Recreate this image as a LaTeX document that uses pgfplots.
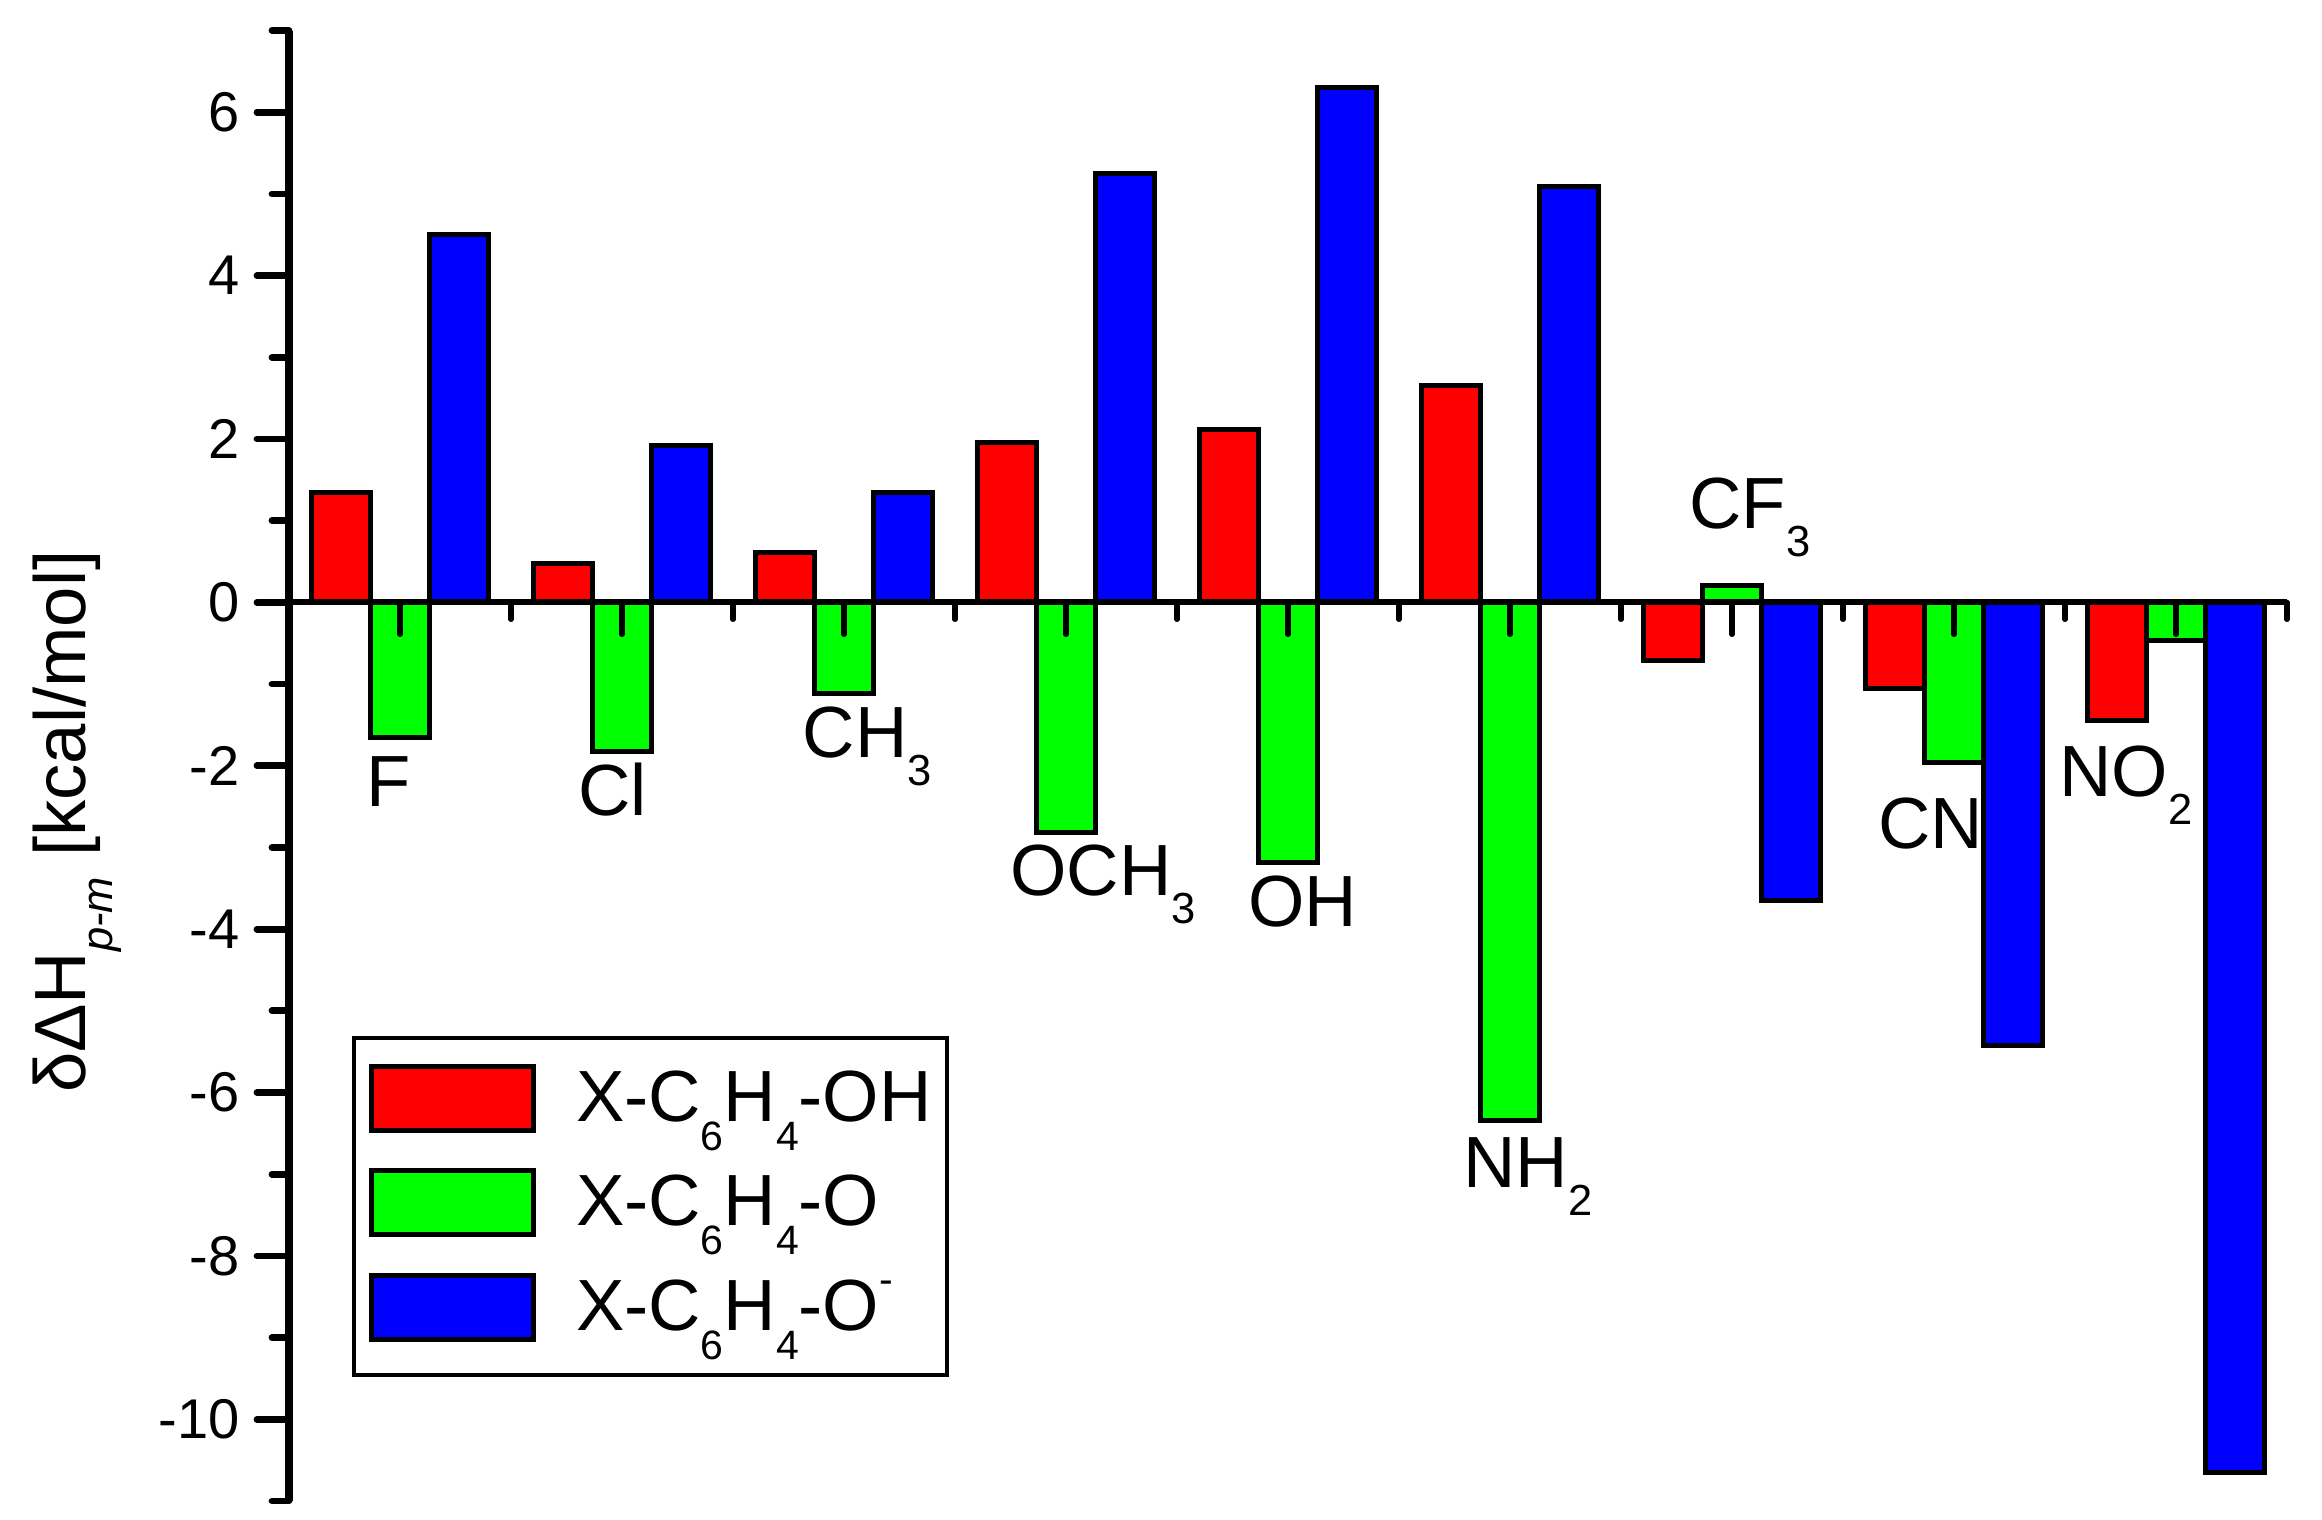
\documentclass[border=0pt]{standalone}
\usepackage{pgfplots}
\usepackage{pgfplotstable}
\pgfplotsset{compat=1.18}
\usepackage{fontspec}
\setmainfont{Liberation Sans}
\newcommand\labfont{\fontsize{14.5}{17}\selectfont}
\newcommand\csub[1]{\raisebox{-0.38em}{\fontsize{8.7}{9}\selectfont #1}}
\newcommand\lsub[1]{\raisebox{-0.4em}{\fontsize{8.2}{9}\selectfont #1}}
\newcommand\lsup[1]{\raisebox{0.5em}{\fontsize{8.2}{9}\selectfont #1}}
\pgfplotsset{myleg/.style={legend image code/.code={\draw[##1, line width=1pt] (0pt,-1.8pt) rectangle (32.4pt,11pt);}}}

\pgfplotstableread{
x red green blue
1 1.35 -1.65 4.50
2 0.48 -1.82 1.92
3 0.61 -1.12 1.34
4 1.96 -2.82 5.25
5 2.11 -3.18 6.30
6 2.65 -6.34 5.09
7 -0.71 0.21 -3.65
8 -1.05 -1.96 -5.43
9 -1.45 -0.47 -10.65
}\datatable

\begin{document}
\begin{tikzpicture}
\begin{axis}[
  at={(0pt,0pt)}, anchor=south west,
  scale only axis, width=399.6pt, height=294.1pt,
  xmin=0.5, xmax=9.5, ymin=-11, ymax=7,
  axis x line=middle, axis y line=left,
  every inner x axis line/.append style={-},
  every outer y axis line/.append style={-},
  x axis line style={-, line width=1.2pt},
  y axis line style={-, line width=1.5pt},
  axis on top,
  xtick={1,...,9}, xticklabels={},
  minor xtick={0.5,1.5,...,9.5},
  ytick={-10,-8,...,6},
  minor ytick={-11,-9,...,7},
  tick align=outside,
  major tick length=6.4pt, minor tick length=3.4pt,
  xtick style={black, line width=1.05pt, line cap=round},
  ytick style={black, line width=1.35pt, line cap=round},
  hide obscured x ticks=false, hide obscured y ticks=false,
  yticklabel style={font=\fontsize{11.2}{13}\selectfont},
  /pgf/number format/assume math mode=true,
  ylabel={δΔH\csub{\itshape p-m} [kcal/mol]},
  ylabel style={at={(axis description cs:-0.1021,0.4619)}, anchor=base, font=\labfont},
  legend style={
    at={(axis description cs:0.0315,0.3163)}, anchor=north west,
    draw=black, line width=0.85pt, fill=white,
    inner xsep=3pt, inner ysep=4.3pt,
    row sep=3.9pt, column sep=8pt,
    font=\labfont,
    cells={anchor=base west},
    nodes={inner sep=0pt, text height=12.3pt, text depth=4.7pt, font=\labfont, anchor=base west},
  },
]
\addplot[ybar, bar width=0.2667, bar shift=-0.2667, fill=red, draw=black, line width=1pt, myleg]
  table[x=x,y=red]{\datatable};
\addlegendentry{X-C\lsub{6}H\lsub{4}-OH}
\addplot[ybar, bar width=0.2667, bar shift=0, fill=green, draw=black, line width=1pt, myleg]
  table[x=x,y=green]{\datatable};
\addlegendentry{X-C\lsub{6}H\lsub{4}-O}
\addplot[ybar, bar width=0.2667, bar shift=0.2667, fill=blue, draw=black, line width=1pt, myleg]
  table[x=x,y=blue]{\datatable};
\addlegendentry{X-C\lsub{6}H\lsub{4}-O\lsup{-}}

\node[anchor=base west, inner sep=0pt, font=\labfont] at (axis cs:0.845,-2.503) {F};
\node[anchor=base west, inner sep=0pt, font=\labfont] at (axis cs:1.80,-2.613) {Cl};
\node[anchor=base west, inner sep=0pt, font=\labfont] at (axis cs:2.81,-1.903) {CH\csub{3}};
\node[anchor=base west, inner sep=0pt, font=\labfont] at (axis cs:3.746,-3.592) {OCH\csub{3}};
\node[anchor=base west, inner sep=0pt, font=\labfont] at (axis cs:4.818,-3.972) {OH};
\node[anchor=base west, inner sep=0pt, font=\labfont] at (axis cs:5.786,-7.166) {NH\csub{2}};
\node[anchor=base west, inner sep=0pt, font=\labfont] at (axis cs:6.804,0.900) {CF\csub{3}};
\node[anchor=base west, inner sep=0pt, font=\labfont] at (axis cs:7.656,-3.017) {CN};
\node[anchor=base west, inner sep=0pt, font=\labfont] at (axis cs:8.471,-2.381) {NO\csub{2}};
\end{axis}
\pgfresetboundingbox
\path[use as bounding box] (-57.8pt,-3.6pt) rectangle (406.6pt,300.2pt);
\end{tikzpicture}
\end{document}
